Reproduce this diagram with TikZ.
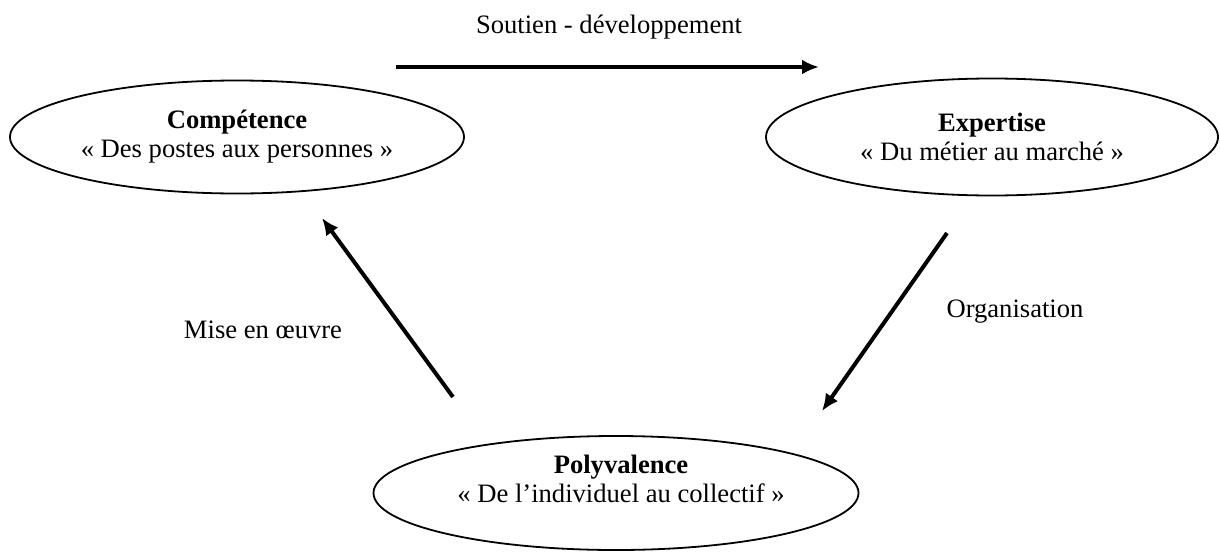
\documentclass[tikz,border=0pt]{standalone}
\usepackage{fontspec}
\setmainfont{Liberation Serif}
\usetikzlibrary{shapes.geometric,arrows.meta}
\begin{document}
\begin{tikzpicture}[x=0.5pt,y=-0.5pt,
  oval/.style={draw,ellipse,line width=0.9pt,inner sep=0pt,align=center,font=\fontsize{13.3}{14.5}\selectfont},
  flow/.style={line width=2pt,-{Latex[length=8.5pt,width=7.5pt]}},
  lbl/.style={font=\fontsize{13.3}{14.5}\selectfont,inner sep=0pt}]
\useasboundingbox (0,0) rectangle (1220,552);
\node[oval,minimum width=227pt,minimum height=56.5pt] (comp) at (237,137) {\textbf{Compétence}\\« Des postes aux personnes »};
\node[oval,minimum width=226pt,minimum height=58.5pt] (exp) at (992,137) {\textbf{Expertise}\\« Du métier au marché »};
\node[oval,minimum width=242.5pt,minimum height=57pt,text depth=14.4pt] (poly) at (616,493) {\hspace*{5pt}\textbf{Polyvalence}\\\hspace*{5pt}« De l’individuel au collectif »};
\coordinate (a1) at (396,67);
\coordinate (a2) at (819,67);
\coordinate (b1) at (947,233);
\coordinate (b2) at (822,411);
\coordinate (c1) at (453,397);
\coordinate (c2) at (322,218);
\draw[flow] (a1) -- (a2);
\draw[flow] (b1) -- (b2);
\draw[flow] (c1) -- (c2);
\node[lbl] (la) at (609,27) {Soutien - développement};
\node[lbl] (lb) at (1015,312) {Organisation};
\node[lbl] (lc) at (263,330) {Mise en œuvre};
\end{tikzpicture}
\end{document}
